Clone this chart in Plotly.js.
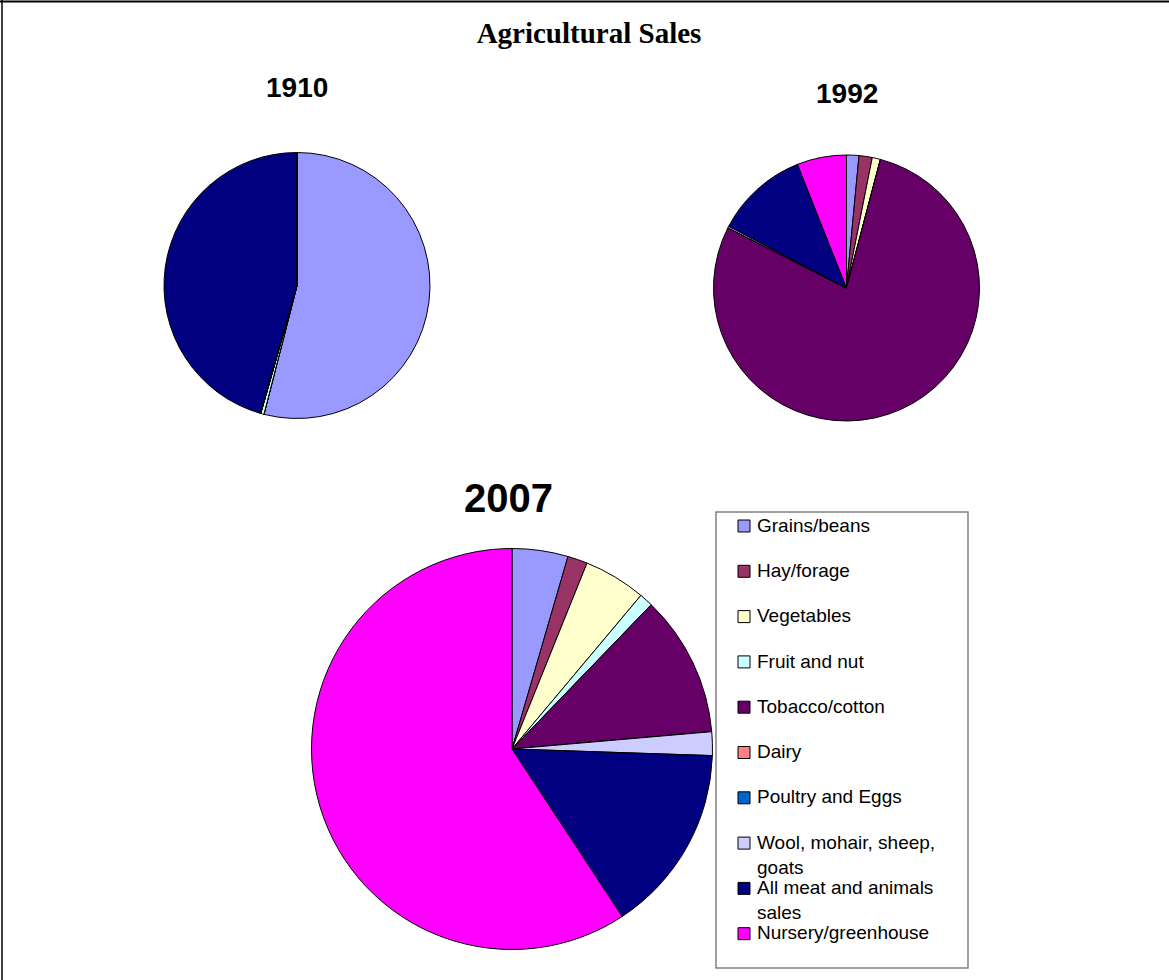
<!DOCTYPE html>
<html>
<head>
<meta charset="utf-8">
<script src="https://cdn.plot.ly/plotly-3.0.1.min.js"></script>
<style>
html,body{margin:0;padding:0;background:#fff;}
#chart{width:1169px;height:980px;}
</style>
</head>
<body>
<div id="chart"></div>
<script>
// ---- data ----
const categories = [
  "Grains/beans",
  "Hay/forage",
  "Vegetables",
  "Fruit and nut",
  "Tobacco/cotton",
  "Dairy",
  "Poultry and Eggs",
  "Wool, mohair, sheep,<br>goats",
  "All meat and animals<br>sales",
  "Nursery/greenhouse"
];
const values1910 = [54.0, 0, 0, 0.4, 0, 0, 0, 0.1, 45.5, 0];
const values1992 = [1.5, 1.6, 1.0, 0, 78.3, 0, 0, 0.2, 11.3, 6.0];
const values2007 = [4.5, 1.6, 5.0, 1.1, 11.4, 0, 0, 1.9, 15.2, 59.2];
const sliceColors = ["#9999FF","#993366","#FFFFCC","#CCFFFF","#660066","#FF8080","#0066CC","#CCCCFF","#000080","#FF00FF"];
const chartTitle = "Agricultural Sales";
const yearLabels = ["1910", "1992", "2007"];

// ---- layout helpers (pixel geometry) ----
const W = 1169, H = 980;
const px = x => x / W;
const py = y => 1 - y / H;
function dom(cx, cy, r) {
  return {x: [px(cx - r), px(cx + r)], y: [py(cy + r), py(cy - r)]};
}

function pie(values, domain) {
  return {
    type: "pie",
    labels: categories,
    values: values,
    sort: false,
    direction: "clockwise",
    rotation: 0,
    textinfo: "none",
    hoverinfo: "label+value",
    marker: {colors: sliceColors.slice(), line: {color: "#000", width: 1}},
    domain: domain,
    showlegend: false
  };
}

const data = [
  pie(values1910, dom(297, 285.5, 133)),
  pie(values1992, dom(846.5, 288, 133)),
  pie(values2007, dom(512, 749, 200.5))
];

const sans = "Liberation Sans, Arial, sans-serif";
const annotations = [
  {text: "<b>" + yearLabels[0] + "</b>", x: px(297), y: py(88)},
  {text: "<b>" + yearLabels[1] + "</b>", x: px(847), y: py(93)},
  {text: "<b>" + yearLabels[2] + "</b>", x: px(508), y: py(498), size: 40}
].map(a => ({
  text: a.text, x: a.x, y: a.y, xref: "paper", yref: "paper",
  xanchor: "center", yanchor: "middle", showarrow: false,
  font: {size: a.size || 28, family: sans, color: "#000"}
}));

const shapes = [
  {type: "rect", xref: "paper", yref: "paper", x0: px(716), x1: px(968), y0: py(968), y1: py(512),
   line: {color: "#808080", width: 1.5}, fillcolor: "rgba(0,0,0,0)", layer: "below"},
  {type: "line", xref: "paper", yref: "paper", x0: 0, x1: 1, y0: py(1.5), y1: py(1.5),
   line: {color: "#000", width: 2}},
  {type: "line", xref: "paper", yref: "paper", x0: px(2), x1: px(2), y0: 0, y1: 1,
   line: {color: "#000", width: 1.5}}
];

// custom legend (evenly spaced entries, like the original)
const legFont = 19, legTop = 526, legStep = 45.3;
categories.forEach((c, i) => {
  const yc = legTop + legStep * i;
  shapes.push({type: "rect", xref: "paper", yref: "paper",
    x0: px(738), x1: px(750), y0: py(yc + 6), y1: py(yc - 6),
    fillcolor: sliceColors[i], line: {color: "#000", width: 1}});
  annotations.push({text: c, x: px(755), y: py(yc - legFont * 1.3 / 2 - 1),
    xref: "paper", yref: "paper", xanchor: "left", yanchor: "top", align: "left",
    showarrow: false, font: {size: legFont, family: sans, color: "#000"}});
});

const layout = {
  width: W, height: H,
  margin: {l: 0, r: 0, t: 0, b: 0},
  paper_bgcolor: "#fff",
  showlegend: false,
  font: {family: sans, color: "#000"},
  title: {
    text: "<b>" + chartTitle + "</b>",
    font: {family: "Liberation Serif, Times New Roman, serif", size: 29, color: "#000"},
    x: px(589), xref: "paper", xanchor: "center",
    y: 1 - 33 / H, yref: "container", yanchor: "middle"
  },
  annotations: annotations,
  shapes: shapes
};

Plotly.newPlot("chart", data, layout, {displayModeBar: false, staticPlot: true});
</script>
</body>
</html>
